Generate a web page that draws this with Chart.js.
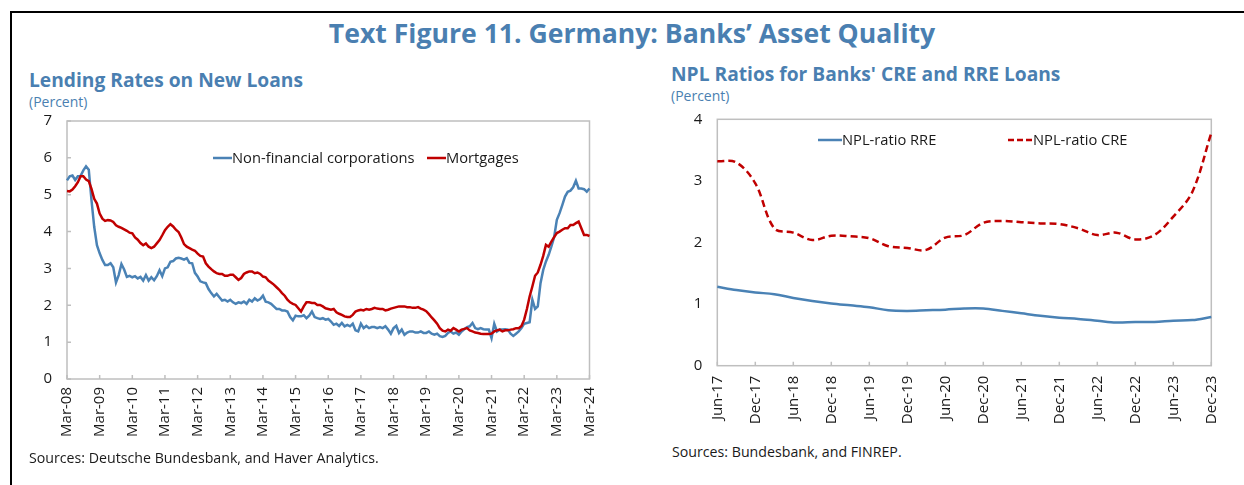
<!DOCTYPE html>
<html>
<head>
<meta charset="utf-8">
<script src="https://cdn.jsdelivr.net/npm/chart.js@4.4.1/dist/chart.umd.min.js"></script>
<style>
html,body{margin:0;padding:0;background:#fff;}
body{width:1244px;height:485px;position:relative;overflow:hidden;font-family:"Open Sans",sans-serif;}
.frame{position:absolute;left:10px;top:11px;width:1400px;height:700px;border-left:2px solid #000;border-top:2px solid #000;}
.t{position:absolute;white-space:nowrap;line-height:1;}
.blue{color:#4a7fb1;}
#title{left:0;width:1264px;text-align:center;top:20px;font-size:26.6px;font-weight:700;}
.sub{font-size:19.2px;font-weight:700;}
.unit{font-size:14px;}
.src{font-size:14.2px;color:#1a1a1a;}
.leg{font-size:14.7px;color:#1a1a1a;}
canvas{position:absolute;}
.sw{position:absolute;}
</style>
</head>
<body>
<div class="frame"></div>
<div id="title" class="t blue">Text Figure 11. Germany: Banks’ Asset Quality</div>

<div class="t blue sub" style="left:29px;top:70px;">Lending Rates on New Loans</div>
<div class="t blue unit" style="left:29px;top:95px;">(Percent)</div>
<div class="t blue sub" style="left:671px;top:64px;">NPL Ratios for Banks' CRE and RRE Loans</div>
<div class="t blue unit" style="left:671px;top:89px;">(Percent)</div>

<canvas id="c1" width="580" height="340" style="left:20px;top:110px;"></canvas>
<canvas id="c2" width="575" height="330" style="left:650px;top:105px;"></canvas>

<svg class="sw" style="left:213px;top:156px;" width="19" height="4"><line x1="0" y1="2" x2="19" y2="2" stroke="#4a82b5" stroke-width="2.5"/></svg>
<div class="t leg" style="left:232px;top:150px;">Non-financial corporations</div>
<svg class="sw" style="left:427px;top:156px;" width="19" height="4"><line x1="0" y1="2" x2="19" y2="2" stroke="#c00000" stroke-width="2.5"/></svg>
<div class="t leg" style="left:446px;top:150px;">Mortgages</div>

<svg class="sw" style="left:818px;top:138px;" width="24" height="4"><line x1="0" y1="2" x2="24" y2="2" stroke="#4a82b5" stroke-width="2.5"/></svg>
<div class="t leg" style="left:842px;top:132px;">NPL-ratio RRE</div>
<svg class="sw" style="left:1008px;top:138px;" width="24" height="4"><line x1="0" y1="2" x2="24" y2="2" stroke="#c00000" stroke-width="2.5" stroke-dasharray="6,3"/></svg>
<div class="t leg" style="left:1033px;top:132px;">NPL-ratio CRE</div>

<div class="t src" style="left:29px;top:451px;">Sources: Deutsche Bundesbank, and Haver Analytics.</div>
<div class="t src" style="left:672px;top:445px;">Sources: Bundesbank, and FINREP.</div>

<script>
// ---------- Left chart: lending rates on new loans (monthly, Mar-08 .. Mar-24) ----------
const monthAbbr = ['Jan','Feb','Mar','Apr','May','Jun','Jul','Aug','Sep','Oct','Nov','Dec'];
const leftStartYear = 2008, leftStartMonth = 2, leftMonthCount = 193;
const leftTickEvery = 12;

const nfcRates = [
5.39,5.50,5.52,5.40,5.50,5.51,5.66,5.77,5.68,4.85,4.13,3.63,
3.41,3.23,3.09,3.09,3.14,3.03,2.62,2.82,3.12,2.97,2.77,2.80,
2.76,2.79,2.73,2.77,2.67,2.82,2.67,2.76,2.68,2.79,2.95,2.79,
3.00,3.03,3.18,3.20,3.27,3.29,3.27,3.24,3.28,3.15,3.14,2.88,
2.78,2.65,2.62,2.60,2.44,2.33,2.24,2.31,2.22,2.13,2.15,2.10,
2.15,2.08,2.04,2.08,2.06,2.10,2.04,2.15,2.10,2.19,2.13,2.17,
2.26,2.10,2.08,2.04,1.97,1.90,1.90,1.86,1.86,1.83,1.68,1.59,
1.72,1.70,1.70,1.73,1.65,1.72,1.83,1.68,1.65,1.63,1.65,1.61,
1.63,1.56,1.47,1.50,1.44,1.52,1.43,1.47,1.43,1.50,1.32,1.29,
1.50,1.38,1.44,1.38,1.41,1.41,1.38,1.41,1.38,1.43,1.34,1.23,
1.38,1.44,1.25,1.34,1.20,1.26,1.29,1.29,1.26,1.26,1.29,1.25,
1.25,1.29,1.23,1.20,1.23,1.16,1.14,1.17,1.25,1.29,1.23,1.26,
1.20,1.29,1.35,1.41,1.43,1.52,1.38,1.35,1.38,1.35,1.34,1.34,
1.11,1.50,1.29,1.34,1.34,1.35,1.34,1.23,1.17,1.23,1.29,1.38,
1.50,1.52,1.54,2.15,1.90,1.97,2.60,2.96,3.19,3.37,3.60,3.85,
4.32,4.50,4.72,4.95,5.08,5.11,5.20,5.38,5.17,5.17,5.15,5.08,
5.17];

const mortgageRates = [
5.10,5.09,5.14,5.23,5.34,5.50,5.50,5.41,5.37,5.16,4.89,4.76,
4.49,4.35,4.29,4.31,4.30,4.26,4.17,4.13,4.10,4.06,4.02,3.97,
3.95,3.84,3.78,3.69,3.63,3.68,3.59,3.55,3.59,3.68,3.77,3.90,
4.04,4.13,4.20,4.14,4.05,3.99,3.84,3.66,3.59,3.55,3.51,3.48,
3.40,3.34,3.32,3.14,3.05,2.98,2.92,2.87,2.85,2.85,2.80,2.80,
2.83,2.83,2.76,2.69,2.74,2.85,2.89,2.92,2.92,2.87,2.89,2.85,
2.78,2.76,2.67,2.62,2.56,2.49,2.42,2.33,2.26,2.15,2.08,2.04,
2.01,1.92,1.83,1.97,2.08,2.08,2.06,2.06,2.01,2.01,1.97,1.92,
1.90,1.88,1.90,1.81,1.77,1.74,1.70,1.68,1.68,1.74,1.83,1.86,
1.88,1.86,1.90,1.88,1.90,1.93,1.91,1.90,1.90,1.86,1.88,1.91,
1.93,1.95,1.97,1.97,1.97,1.95,1.95,1.93,1.93,1.95,1.91,1.88,
1.84,1.76,1.67,1.59,1.50,1.38,1.31,1.29,1.34,1.31,1.38,1.34,
1.29,1.34,1.36,1.38,1.32,1.29,1.26,1.25,1.23,1.22,1.22,1.22,
1.23,1.29,1.32,1.34,1.29,1.32,1.32,1.34,1.35,1.38,1.38,1.44,
1.61,1.90,2.24,2.51,2.80,2.89,3.10,3.34,3.64,3.59,3.73,3.85,
3.96,4.00,4.05,4.09,4.09,4.18,4.18,4.23,4.27,4.09,3.91,3.91,
3.88];

const leftMonths = [];
for (let i = 0; i < leftMonthCount; i++) {
  const mi = leftStartMonth + i;
  const y = leftStartYear + Math.floor(mi / 12);
  leftMonths.push(monthAbbr[mi % 12] + '-' + String(y % 100).padStart(2, '0'));
}

// ---------- Right chart: NPL ratios (quarterly, Jun-17 .. Dec-23) ----------
const quarters = ['Jun-17','Sep-17','Dec-17','Mar-18','Jun-18','Sep-18','Dec-18','Mar-19','Jun-19','Sep-19','Dec-19','Mar-20','Jun-20','Sep-20','Dec-20','Mar-21','Jun-21','Sep-21','Dec-21','Mar-22','Jun-22','Sep-22','Dec-22','Mar-23','Jun-23','Sep-23','Dec-23'];
const nplRRE = [1.28,1.23,1.19,1.16,1.10,1.05,1.01,0.98,0.95,0.90,0.89,0.90,0.91,0.93,0.93,0.89,0.85,0.81,0.78,0.76,0.73,0.70,0.71,0.71,0.73,0.74,0.79];
const nplCRE = [3.32,3.30,2.96,2.23,2.16,2.04,2.11,2.10,2.07,1.94,1.91,1.88,2.08,2.12,2.32,2.35,2.33,2.31,2.30,2.23,2.12,2.16,2.05,2.12,2.42,2.82,3.78];
const rightTickEvery = 2;

const BLUE = '#4a82b5', RED = '#c00000', TXT = '#1a1a1a', FRAME = '#bfbfbf';

Chart.defaults.font.family = "'Open Sans', sans-serif";
Chart.defaults.color = TXT;

const framePlugin = {
  id: 'frame',
  beforeDatasetsDraw(chart, args, opts) {
    const { ctx, chartArea: a, scales } = chart;
    ctx.save();
    ctx.strokeStyle = FRAME;
    ctx.lineWidth = 1.5;
    ctx.strokeRect(a.left, a.top, a.right - a.left, a.bottom - a.top);
    ctx.beginPath();
    const xs = scales.x;
    for (let i = 0; i < xs.ticks.length; i += opts.every) {
      const px = xs.getPixelForTick(i);
      ctx.moveTo(px, a.bottom);
      ctx.lineTo(px, a.bottom - 4);
    }
    if (opts.yTicks) {
      const ys = scales.y;
      for (let i = 0; i < ys.ticks.length; i++) {
        const py = ys.getPixelForTick(i);
        ctx.moveTo(a.left, py);
        ctx.lineTo(a.left + 4, py);
      }
    }
    ctx.stroke();
    ctx.restore();
  }
};

function noPad(s) { s.paddingTop = 0; s.paddingBottom = 0; s.paddingLeft = 0; s.paddingRight = 0; }

function baseOptions(pad, xH, yW, yMax, tickEvery, labels, xPad, yTicks) {
  return {
    responsive: false,
    animation: false,
    devicePixelRatio: 1,
    layout: { padding: pad },
    plugins: { legend: { display: false }, tooltip: { enabled: false }, frame: { every: tickEvery, yTicks: yTicks } },
    elements: { point: { radius: 0 } },
    scales: {
      x: {
        type: 'category', offset: false,
        grid: { display: false, drawTicks: false },
        border: { display: false },
        ticks: {
          autoSkip: false, minRotation: 90, maxRotation: 90, padding: xPad,
          font: { size: 15 }, color: TXT,
          callback: (v, i) => (i % tickEvery === 0 ? labels[i] : '')
        },
        afterFit: (s) => { s.height = xH; noPad(s); }
      },
      y: {
        min: 0, max: yMax,
        grid: { display: false, drawTicks: false },
        border: { display: false },
        ticks: { stepSize: 1, padding: 15, font: { size: 15 }, color: TXT },
        afterFit: (s) => { s.width = yW; noPad(s); }
      }
    }
  };
}

new Chart(document.getElementById('c1'), {
  type: 'line',
  data: {
    labels: leftMonths,
    datasets: [
      { label: 'Non-financial corporations', data: nfcRates, borderColor: BLUE, borderWidth: 2.5, tension: 0, order: 1 },
      { label: 'Mortgages', data: mortgageRates, borderColor: RED, borderWidth: 2.5, tension: 0, order: 0 }
    ]
  },
  options: baseOptions({ top: 11, right: 10.5, left: 0, bottom: 0 }, 71, 47, 7, leftTickEvery, leftMonths, 8, true),
  plugins: [framePlugin]
});

new Chart(document.getElementById('c2'), {
  type: 'line',
  data: {
    labels: quarters,
    datasets: [
      { label: 'NPL-ratio RRE', data: nplRRE, borderColor: BLUE, borderWidth: 2.5, tension: 0.35, order: 1 },
      { label: 'NPL-ratio CRE', data: nplCRE, borderColor: RED, borderWidth: 2.5, borderDash: [7, 4], tension: 0.35, order: 0 }
    ]
  },
  options: baseOptions({ top: 14.3, right: 13.7, left: 0, bottom: 0 }, 69.3, 67.3, 4, rightTickEvery, quarters, 10, false),
  plugins: [framePlugin]
});
</script>
</body>
</html>
